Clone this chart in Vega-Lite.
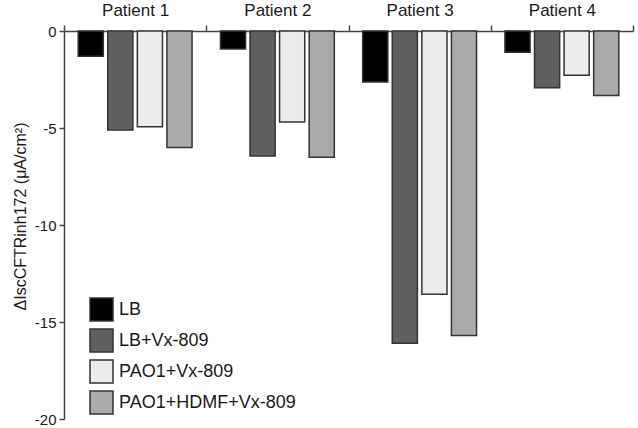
{
  "$schema": "https://vega.github.io/schema/vega-lite/v6.json",
  "autosize": {"type": "none"},
  "padding": {"left": 64, "top": 31, "right": 5, "bottom": 9},
  "width": 569,
  "height": 388,
  "background": "white",
  "data": {
    "values": [
      {"patient": "Patient 1", "condition": "LB", "value": -1.3},
      {"patient": "Patient 1", "condition": "LB+Vx-809", "value": -5.1},
      {"patient": "Patient 1", "condition": "PAO1+Vx-809", "value": -4.93},
      {"patient": "Patient 1", "condition": "PAO1+HDMF+Vx-809", "value": -6.01},
      {"patient": "Patient 2", "condition": "LB", "value": -0.93},
      {"patient": "Patient 2", "condition": "LB+Vx-809", "value": -6.44},
      {"patient": "Patient 2", "condition": "PAO1+Vx-809", "value": -4.69},
      {"patient": "Patient 2", "condition": "PAO1+HDMF+Vx-809", "value": -6.51},
      {"patient": "Patient 3", "condition": "LB", "value": -2.63},
      {"patient": "Patient 3", "condition": "LB+Vx-809", "value": -16.1},
      {"patient": "Patient 3", "condition": "PAO1+Vx-809", "value": -13.57},
      {"patient": "Patient 3", "condition": "PAO1+HDMF+Vx-809", "value": -15.7},
      {"patient": "Patient 4", "condition": "LB", "value": -1.1},
      {"patient": "Patient 4", "condition": "LB+Vx-809", "value": -2.92},
      {"patient": "Patient 4", "condition": "PAO1+Vx-809", "value": -2.28},
      {"patient": "Patient 4", "condition": "PAO1+HDMF+Vx-809", "value": -3.33}
    ]
  },
  "mark": {"type": "bar", "stroke": "#333333", "strokeWidth": 1.5},
  "encoding": {
    "x": {
      "field": "patient",
      "type": "nominal",
      "scale": {"paddingInner": 0, "paddingOuter": 0},
      "axis": {
        "orient": "top",
        "title": null,
        "labelAngle": 0,
        "labelFont": "Liberation Sans",
        "labelFontSize": 17,
        "labelColor": "#1a1a1a",
        "labelPadding": 6,
        "tickBand": "extent",
        "tickSize": 6,
        "tickColor": "#444444",
        "tickWidth": 1.5,
        "domainColor": "#444444",
        "domainWidth": 1.5
      }
    },
    "xOffset": {
      "field": "condition",
      "type": "nominal",
      "sort": ["LB", "LB+Vx-809", "PAO1+Vx-809", "PAO1+HDMF+Vx-809"],
      "scale": {"paddingInner": 0.15, "paddingOuter": 0.48}
    },
    "y": {
      "field": "value",
      "type": "quantitative",
      "scale": {"domain": [-20, 0], "nice": false},
      "axis": {
        "values": [0, -5, -10, -15, -20],
        "labelExpr": "'' + datum.value",
        "grid": false,
        "title": "ΔIscCFTRinh172 (μA/cm²)",
        "titleFont": "Liberation Sans",
        "titleFontSize": 16,
        "titleFontWeight": "normal",
        "titleColor": "#1a1a1a",
        "titlePadding": 6,
        "titleY": 185,
        "labelFont": "Liberation Sans",
        "labelFontSize": 15,
        "labelColor": "#1a1a1a",
        "labelPadding": 3,
        "tickSize": 5,
        "tickColor": "#444444",
        "tickWidth": 1.5,
        "domainColor": "#444444",
        "domainWidth": 1.5
      }
    },
    "color": {
      "field": "condition",
      "type": "nominal",
      "sort": ["LB", "LB+Vx-809", "PAO1+Vx-809", "PAO1+HDMF+Vx-809"],
      "scale": {
        "domain": ["LB", "LB+Vx-809", "PAO1+Vx-809", "PAO1+HDMF+Vx-809"],
        "range": ["#000000", "#606060", "#ececec", "#aaaaaa"]
      },
      "legend": {
        "title": null,
        "orient": "none",
        "legendX": 25,
        "legendY": 266,
        "symbolType": "square",
        "symbolSize": 529,
        "symbolStrokeColor": "#333333",
        "symbolStrokeWidth": 1.5,
        "symbolOpacity": 1,
        "labelFont": "Liberation Sans",
        "labelFontSize": 18,
        "labelColor": "#1a1a1a",
        "labelOffset": 5,
        "labelLimit": 300,
        "rowPadding": 2
      }
    }
  },
  "config": {"view": {"stroke": null}}
}
